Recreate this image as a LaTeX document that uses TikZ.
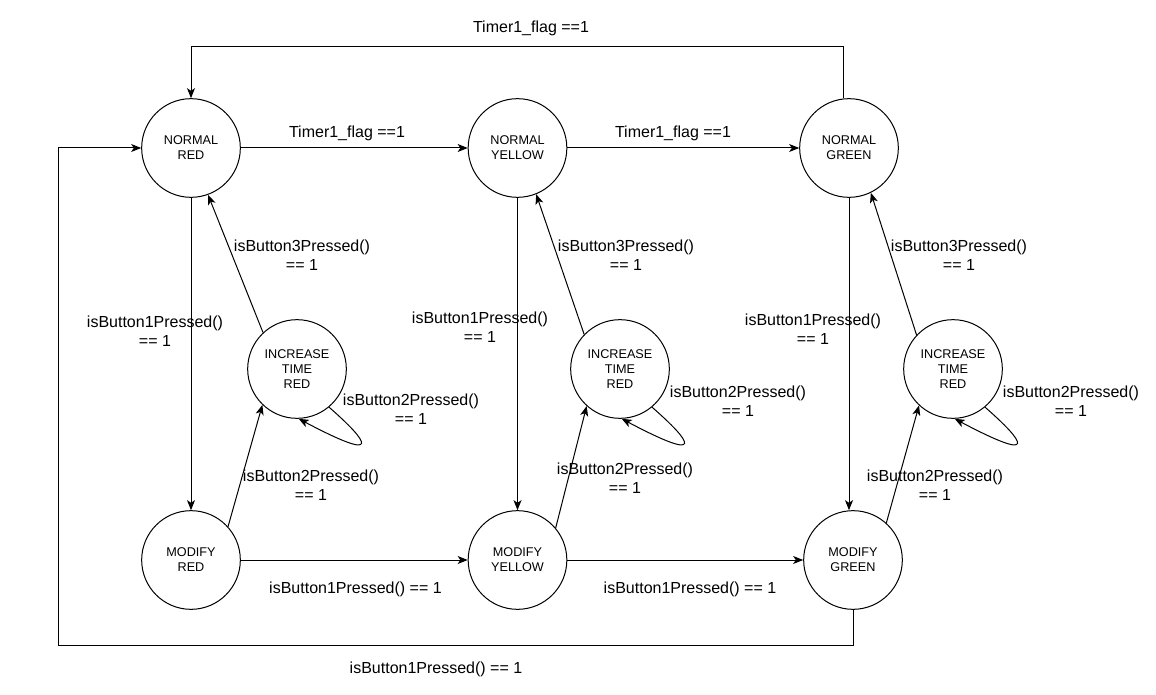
\documentclass[tikz,border=0pt]{standalone}
\usepackage{fontspec}
\setmainfont{Liberation Sans}
\usetikzlibrary{arrows.meta}

\begin{document}
\begin{tikzpicture}[x=0.75pt,y=-0.75pt,line width=0.75pt,>={Stealth[length=7.5pt,width=6pt,inset=2pt]},
  estado/.style={circle,draw,minimum size=74pt,inner sep=0pt,align=center,font=\fontsize{9.5}{11.3}\selectfont},
  etiq/.style={align=center,inner sep=0pt,font=\fontsize{12}{14.25}\selectfont}]
  \useasboundingbox (0,0) rectangle (1156,695);
  % estados
  \node[estado] (nr) at (191,148) {NORMAL\\RED};
  \node[estado] (ny) at (517.5,148) {NORMAL\\YELLOW};
  \node[estado] (ng) at (849,148) {NORMAL\\GREEN};
  \node[estado] (ir) at (297,369) {INCREASE\\TIME\\RED};
  \node[estado] (iy) at (620,369) {INCREASE\\TIME\\RED};
  \node[estado] (ig) at (953,369) {INCREASE\\TIME\\RED};
  \node[estado] (mr) at (191,560) {MODIFY\\RED};
  \node[estado] (my) at (517.5,560) {MODIFY\\YELLOW};
  \node[estado] (mg) at (853,560) {MODIFY\\GREEN};
  \coordinate (arriba) at (843,47);
  \coordinate (abajo) at (58,645);
  % ciclo normal
  \draw[->] (nr) -- (ny); \node[etiq] (t1) at (347,133) {Timer1\_flag ==1};
  \draw[->] (ny) -- (ng); \node[etiq] (t2) at (673,133) {Timer1\_flag ==1};
  \draw[->] (arriba |- ng.north) -- (arriba) -| (nr.north); \node[etiq] (t3) at (531,28) {Timer1\_flag ==1};
  % normal -> modify
  \draw[->] (nr) -- (mr); \node[etiq] (b1r) at (155,331.5) {isButton1Pressed()\\== 1};
  \draw[->] (ny) -- (my); \node[etiq] (b1y) at (480,327.5) {isButton1Pressed()\\== 1};
  \draw[->] (ng) -- (ng |- mg.north); \node[etiq] (b1g) at (813,329.5) {isButton1Pressed()\\== 1};
  % ciclo modify
  \draw[->] (mr) -- (my); \node[etiq] (m1) at (355.5,589) {isButton1Pressed() == 1};
  \draw[->] (my) -- (mg); \node[etiq] (m2) at (690,589) {isButton1Pressed() == 1};
  \draw[->] (mg.south) |- (abajo) |- (nr.west); \node[etiq] (m3) at (436,669) {isButton1Pressed() == 1};
  % modify -> increase
  \draw[->] (mr.42) -- (ir.-134); \node[etiq] (b2r) at (311,485) {isButton2Pressed()\\== 1};
  \draw[->] (my.40) -- (iy.-132); \node[etiq] (b2y) at (625,478.5) {isButton2Pressed()\\== 1};
  \draw[->] (mg.48) -- (ig.-133); \node[etiq] (b2g) at (935,485.5) {isButton2Pressed()\\== 1};
  % increase -> normal
  \draw[->] (ir.133) -- (nr.-70); \node[etiq] (b3r) at (302,255.5) {isButton3Pressed()\\== 1};
  \draw[->] (iy.136) -- (ny.-68); \node[etiq] (b3y) at (626,255.5) {isButton3Pressed()\\== 1};
  \draw[->] (ig.137) -- (ng.-64); \node[etiq] (b3g) at (959,255.5) {isButton3Pressed()\\== 1};
  % lazos
  \draw[->] (ir.-50) .. controls +(40,35) and +(85,45) .. (ir.-88); \node[etiq] (lr) at (411,409) {isButton2Pressed()\\== 1};
  \draw[->] (iy.-50) .. controls +(40,35) and +(85,45) .. (iy.-88); \node[etiq] (ly) at (738,401.5) {isButton2Pressed()\\== 1};
  \draw[->] (ig.-50) .. controls +(40,35) and +(85,45) .. (ig.-88); \node[etiq] (lg) at (1071,401.5) {isButton2Pressed()\\== 1};
\end{tikzpicture}
\end{document}
